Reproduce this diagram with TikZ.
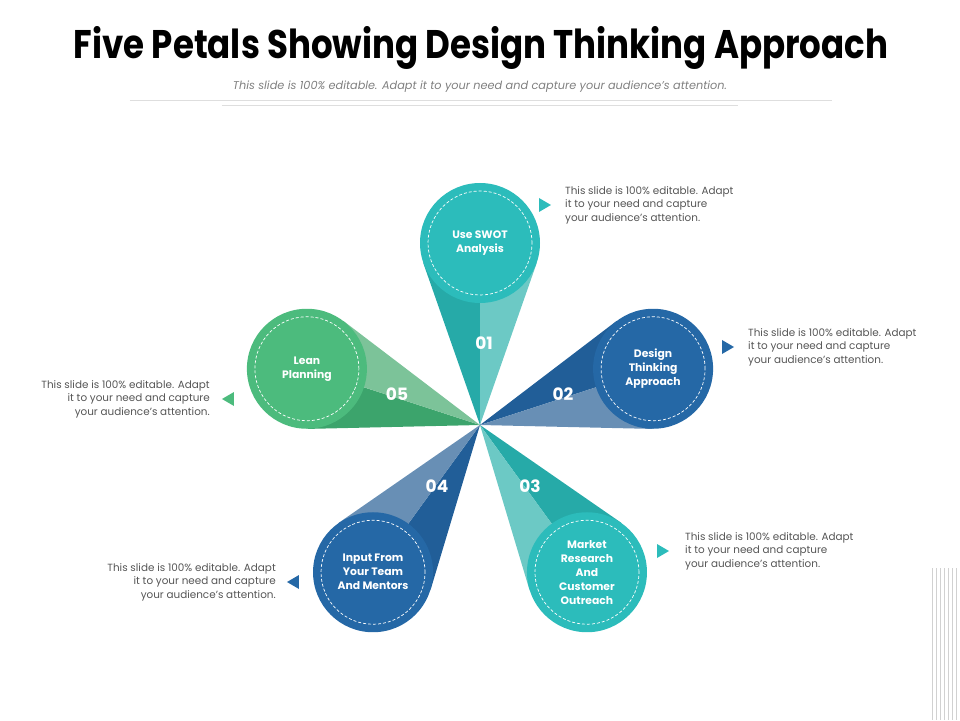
\documentclass[tikz,border=0pt]{standalone}
\usepackage{fontspec}
\setmainfont{Poppins}
\usetikzlibrary{positioning}

\definecolor{tealc}{RGB}{44,188,187}
\definecolor{tealdark}{RGB}{38,170,168}
\definecolor{teallight}{RGB}{108,201,197}
\definecolor{bluec}{RGB}{37,104,166}
\definecolor{bluedark}{RGB}{33,94,152}
\definecolor{bluelight}{RGB}{104,143,181}
\definecolor{greenc}{RGB}{76,187,125}
\definecolor{greendark}{RGB}{60,164,108}
\definecolor{greenlight}{RGB}{124,195,153}
\definecolor{notegray}{RGB}{85,85,85}

\tikzset{
  bubble/.style={circle, minimum size=120pt, inner sep=0pt, text=white, align=center,
    font=\fontsize{10.8}{14}\selectfont\bfseries},
  innerdash/.style={white, densely dashed, line width=0.7pt},
  petalnum/.style={text=white, font=\fontsize{17}{17}\selectfont\bfseries},
  note/.style={inner sep=0pt, text=notegray, font=\fontsize{10.4}{13.5}\selectfont},
}

\begin{document}
\begin{tikzpicture}[x=1pt, y=1pt]

    \useasboundingbox (-480,-295) rectangle (480,425);

    % Heading
    \node (title) at (1,377) {\scalebox{0.92}[1.08]{\fontsize{37}{40}\selectfont\bfseries Five Petals Showing Design Thinking Approach}};
    \node[text=gray, font=\fontsize{11.3}{12}\selectfont\itshape] (subtitle) at (0,338)
        {This slide is 100\% editable. Adapt it to your need and capture your audience's attention.};
    \draw[black!13, line width=0.8pt] (-350,325) -- (352,325);
    \draw[black!13, line width=0.8pt] (-258,320) -- (258,320);

    % Center of the petals
    \coordinate (O) at (0,0);

    % Petal 01
    \fill[tealdark] (O) -- (109.3:172) -- (90:182) -- cycle;
    \fill[teallight] (O) -- (70.7:172) -- (90:182) -- cycle;

    % Petal 02
    \fill[bluedark] (O) -- (37.3:172) -- (18:182) -- cycle;
    \fill[bluelight] (O) -- (-1.3:172) -- (18:182) -- cycle;

    % Petal 03
    \fill[tealdark] (O) -- (-34.7:172) -- (-54:182) -- cycle;
    \fill[teallight] (O) -- (-73.3:172) -- (-54:182) -- cycle;

    % Petal 04
    \fill[bluedark] (O) -- (-106.7:172) -- (-126:182) -- cycle;
    \fill[bluelight] (O) -- (-145.3:172) -- (-126:182) -- cycle;

    % Petal 05
    \fill[greendark] (O) -- (181.3:172) -- (162:182) -- cycle;
    \fill[greenlight] (O) -- (142.7:172) -- (162:182) -- cycle;

    % Circles at the ends of the petals
    \node[bubble, fill=tealc] (s1) at (90:182) {Use SWOT\\Analysis};
    \node[bubble, fill=bluec] (s2) at (18:182) {Design\\Thinking\\Approach};
    \node[bubble, fill=tealc] (s3) at (-54:182) {Market\\Research\\And\\Customer\\Outreach};
    \node[bubble, fill=bluec] (s4) at (-126:182) {Input From\\Your Team\\And Mentors};
    \node[bubble, fill=greenc] (s5) at (162:182) {Lean\\Planning};

    % Dashed rings
    \draw[innerdash] (s1.center) circle (52);
    \draw[innerdash] (s2.center) circle (52);
    \draw[innerdash] (s3.center) circle (52);
    \draw[innerdash] (s4.center) circle (52);
    \draw[innerdash] (s5.center) circle (52);

    % Petal numbers
    \node[petalnum] (num1) at (4,82) {01};
    \node[petalnum] (num2) at (83,31) {02};
    \node[petalnum] (num3) at (50,-61) {03};
    \node[petalnum] (num4) at (-43,-61) {04};
    \node[petalnum] (num5) at (-83,31) {05};

    % Notes
    \node[note, anchor=west, align=left] (n1) at (85,220)
        {This slide is 100\% editable. Adapt\\it to your need and capture\\your audience's attention.};
    \node[note, anchor=west, align=left] (n2) at (268,78)
        {This slide is 100\% editable. Adapt\\it to your need and capture\\your audience's attention.};
    \node[note, anchor=west, align=left] (n3) at (205,-126)
        {This slide is 100\% editable. Adapt\\it to your need and capture\\your audience's attention.};
    \node[note, anchor=east, align=right] (n4) at (-204,-157)
        {This slide is 100\% editable. Adapt\\it to your need and capture\\your audience's attention.};
    \node[note, anchor=east, align=right] (n5) at (-270,26)
        {This slide is 100\% editable. Adapt\\it to your need and capture\\your audience's attention.};

    % Pointers beside the notes
    \coordinate[left=20pt of n1.west] (p1);
    \coordinate[left=20pt of n2.west] (p2);
    \coordinate[left=22pt of n3.west] (p3);
    \coordinate[right=17pt of n4.east] (p4);
    \coordinate[right=18pt of n5.east] (p5);
    \fill[tealc] (p1) ++(-6,7) -- ++(12,-7) -- ++(-12,-7) -- cycle;
    \fill[bluec] (p2) ++(-6,7) -- ++(12,-7) -- ++(-12,-7) -- cycle;
    \fill[tealc] (p3) ++(-6,7) -- ++(12,-7) -- ++(-12,-7) -- cycle;
    \fill[bluec] (p4) ++(6,7) -- ++(-12,-7) -- ++(12,-7) -- cycle;
    \fill[greenc] (p5) ++(6,7) -- ++(-12,-7) -- ++(12,-7) -- cycle;

    % Stripes in the corner
    \foreach \x in {452,456,...,476}
        \draw[black!18, line width=0.8pt] (\x,-143) -- (\x,-295);

\end{tikzpicture}
\end{document}
